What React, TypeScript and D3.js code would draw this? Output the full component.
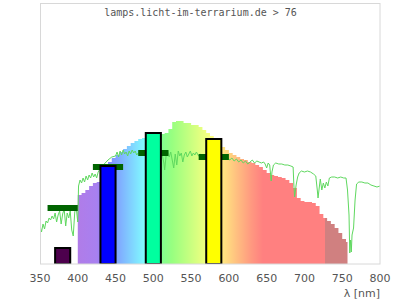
import React from 'react';
import * as d3 from 'd3';

const title = 'lamps.licht-im-terrarium.de > 76';
const xTicks = [350, 400, 450, 500, 550, 600, 650, 700, 750, 800];
const xLabel = 'λ [nm]';

// lamp spectrum (relative units, stepped)
const specNm = [400,405,410,415,420,425,430,435,440,445,450,455,460,465,470,475,480,485,490,495,500,505,510,515,520,525,530,535,540,545,550,555,560,565,570,575,580,585,590,595,600,605,610,615,620,625,630,635,640,645,650,655,660,665,670,675,680,685,690,695,700,705,710,715,720,725,730,735,740,745,750,755,757];
const specVal = [69,71,74,78,81,82,89,96,102,106,109,112,115,118,121,123,125,126,127,128,129,129,130,131,135,142,143,143,141,141,139,139,137,134,131,128,125,121,117,114,111,109,107,105,104,102,101,99,97,94,91,89,88,87,86,84,81,76,66,63,62,62,61,58,50,46,43,40,36,31,25,22,22];

// sunlight reference curve
const sunNm = [350,352,354,356,358,360,362,364,366,368,370,372,374,376,378,380,382,384,386,388,390,392,394,396,398,400,401,403,405,407,409,411,413,415,417,419,421,423,425,427,430,435,440,445,450,452,454,456,458,460,462,464,466,468,470,472,474,476,478,480,485,490,500,510,512,514,515,517,519,521,523,525,527,529,531,533,535,537,539,541,543,545,547,549,551,553,555,557,560,563,566,570,575,580,585,590,595,598,601,604,607,610,613,616,619,622,625,628,631,634,637,640,643,646,648,650,652,654,656,657,659,662,666,670,674,678,682,685,686,687,689,691,693,696,700,704,708,712,715,717,718,720,721,723,725,727,729,731,733,736,740,744,748,752,755,757,759,760,761,762,763,765,767,769,772,776,780,784,788,792,796,800];
const sunVal = [38,32,40,35,43,41,46,44,48,45,51,42,49,53,40,50,55,38,51,46,53,34,28,52,56,42,78,84,81,86,82,88,84,89,86,91,87,90,86,92,96,100,104,107,108,112,107,113,109,114,110,112,108,113,110,114,111,113,109,111,112,110,111,112,108,101,94,109,114,107,112,104,96,110,99,113,108,111,102,109,112,107,110,113,108,111,109,112,108,110,107,109,108,107,106,107,105,107,104,106,103,105,102,104,101,103,100,102,104,101,103,102,101,102,100,96,101,99,83,92,99,101,100,100,99,99,98,97,79,67,79,87,91,93,92,93,92,90,88,74,66,79,85,74,81,76,82,78,86,87,87,86,87,86,86,74,49,11,24,12,29,36,64,80,82,82,81,81,79,78,77,78];

// lamp LED bands
const ledLo = [370, 430, 490, 570];
const ledHi = [390, 450, 510, 590];
const ledVal = [16, 98, 131, 125];
const ledColor = ['#4d004d', '#0000ff', '#00ff9f', '#ffff00'];

// sunlight band averages
const avgNm = [380, 440, 500, 580];
const avgVal = [56, 97, 111, 107];

// spectrum colour stops
const gradNm = [400, 425, 435, 450, 470, 487, 495, 510, 525, 545, 565, 580, 595, 610, 630, 645, 727, 727.5, 757];
const gradColor = ['#b07ce8', '#a880f0', '#8880ff', '#80a0ff', '#80d0ff', '#80f8ff', '#80ffd0', '#80ff90', '#98ff80', '#c0ff80', '#e8ff80', '#ffff80', '#ffe080', '#ffc080', '#ff9880', '#ff8080', '#ff8080', '#d08080', '#d08080'];

export default function App() {
  const W = 400, H = 300;
  const x = d3.scaleLinear().domain([350, 800]).range([40, 380]);
  const y = d3.scaleLinear().domain([0, 261]).range([264, 3]);

  const area = d3.area<number>()
    .x((_, i) => x(specNm[i]))
    .y0(y(0))
    .y1((d) => y(d))
    .curve(d3.curveStepAfter);

  const line = d3.line<number>()
    .x((_, i) => x(sunNm[i]))
    .y((d) => y(d));

  const g0 = x(gradNm[0]);
  const g1 = x(gradNm[gradNm.length - 1]);

  return (
    <svg width={W} height={H} style={{ position: 'fixed', left: 0, top: 0, background: '#fff' }}
      fontFamily="DejaVu Sans">
      <defs>
        <linearGradient id="spec" gradientUnits="userSpaceOnUse" x1={g0} x2={g1} y1={0} y2={0}>
          {gradNm.map((n, i) => (
            <stop key={i} offset={(x(n) - g0) / (g1 - g0)} stopColor={gradColor[i]} />
          ))}
        </linearGradient>
        <clipPath id="plot">
          <rect x={40} y={3} width={340} height={261} />
        </clipPath>
      </defs>
      <rect x={0} y={0} width={W} height={H} fill="#fff" />
      <g clipPath="url(#plot)">
        <path d={area(specVal) || ''} fill="url(#spec)" />
        <path d={line(sunVal) || ''} fill="none" stroke="#5fd85f" strokeWidth={1} />
        {avgNm.map((n, i) => (
          <rect key={i} x={x(n - 20)} y={y(avgVal[i]) - 3} width={x(n + 20) - x(n - 20)} height={6} fill="#006400" />
        ))}
        {ledLo.map((lo, i) => (
          <rect key={i} x={x(lo)} y={y(ledVal[i])} width={x(ledHi[i]) - x(lo)} height={y(0) - y(ledVal[i])}
            fill={ledColor[i]} stroke="#000" strokeWidth={2} />
        ))}
      </g>
      <rect x={40.5} y={3.5} width={339.5} height={260.5} fill="none" stroke="#d8d8d8" strokeWidth={1} />
      {xTicks.map((t) => (
        <text key={t} x={x(t)} y={282} textAnchor="middle" fontSize={11} fill="#555">{t}</text>
      ))}
      <text x={380} y={297} textAnchor="end" fontSize={11} fill="#555">{xLabel}</text>
      <text x={200.5} y={16} textAnchor="middle" fontSize={10} fill="#555" fontFamily="DejaVu Sans Mono">{title}</text>
    </svg>
  );
}
